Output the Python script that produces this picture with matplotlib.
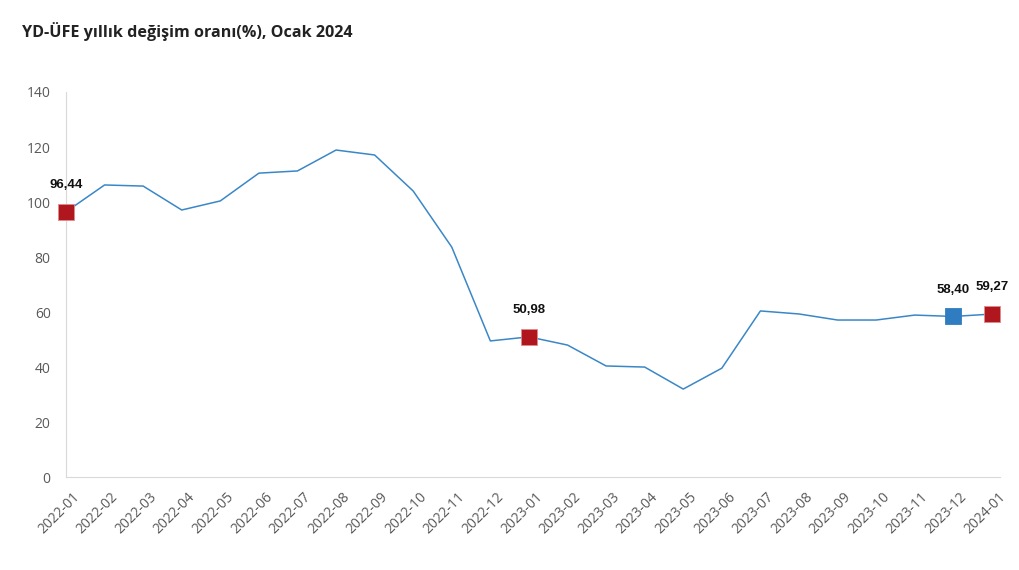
import matplotlib
matplotlib.use("Agg")
import matplotlib.pyplot as plt
import matplotlib.transforms as mtransforms

months = ["2022-01", "2022-02", "2022-03", "2022-04", "2022-05", "2022-06", "2022-07",
          "2022-08", "2022-09", "2022-10", "2022-11", "2022-12", "2023-01", "2023-02",
          "2023-03", "2023-04", "2023-05", "2023-06", "2023-07", "2023-08", "2023-09",
          "2023-10", "2023-11", "2023-12", "2024-01"]
values = [96.44, 106.2, 105.8, 97.1, 100.4, 110.5, 111.3, 118.9, 117.1, 104.0, 83.6,
          49.5, 50.98, 48.0, 40.4, 40.0, 32.0, 39.6, 60.4, 59.3, 57.1, 57.1, 58.9,
          58.40, 59.27]
marked = ["2022-01", "2023-01", "2023-12", "2024-01"]
marked_labels = ["96,44", "50,98", "58,40", "59,27"]
marked_colors = ["#B0161E", "#B0161E", "#2F7DC0", "#B0161E"]

plt.rcParams["font.family"] = ["Open Sans", "DejaVu Sans"]

fig = plt.figure(figsize=(10.2, 5.7), dpi=100)
ax = fig.add_axes([0.0647, 0.163, 0.9153, 0.6756])

x = list(range(len(months)))
ax.plot(x, values, color="#3A87C8", linewidth=1.1, zorder=2)

for m, lab, c in zip(marked, marked_labels, marked_colors):
    i = months.index(m)
    ax.plot(i, values[i], marker="s", markersize=11.5, color=c,
            markeredgecolor="#E08A8A" if c == "#B0161E" else c,
            markeredgewidth=0.6, zorder=3, clip_on=False)
    ax.annotate(lab, (i, values[i]), xytext=(0, 15), textcoords="offset points",
                ha="center", va="bottom", fontsize=9.5, fontweight="bold",
                family=["Liberation Sans Narrow", "Liberation Sans"], color="#111111")

ax.set_xlim(0, 24.2)
ax.set_ylim(0, 140)
ax.set_yticks(range(0, 141, 20))
ax.set_xticks(x)
ax.set_xticklabels(months, rotation=45, ha="right", rotation_mode="anchor")
ax.tick_params(length=0, labelsize=10, labelcolor="#595959")
ax.tick_params(axis="y", pad=11)
ax.tick_params(axis="x", pad=9)
shift = mtransforms.ScaledTranslation(6 / 100, 0, fig.dpi_scale_trans)
for lbl in ax.get_xticklabels():
    lbl.set_transform(lbl.get_transform() + shift)
for s in ["top", "right"]:
    ax.spines[s].set_visible(False)
ax.spines["left"].set_color("#D9D9D9")
ax.spines["bottom"].set_color("#D9D9D9")

fig.text(0.0216, 0.944, "YD-ÜFE yıllık değişim oranı(%), Ocak 2024", fontsize=11.6,
         fontweight="bold", color="#222222", va="center", ha="left")

fig.savefig("out.png", dpi=100)
